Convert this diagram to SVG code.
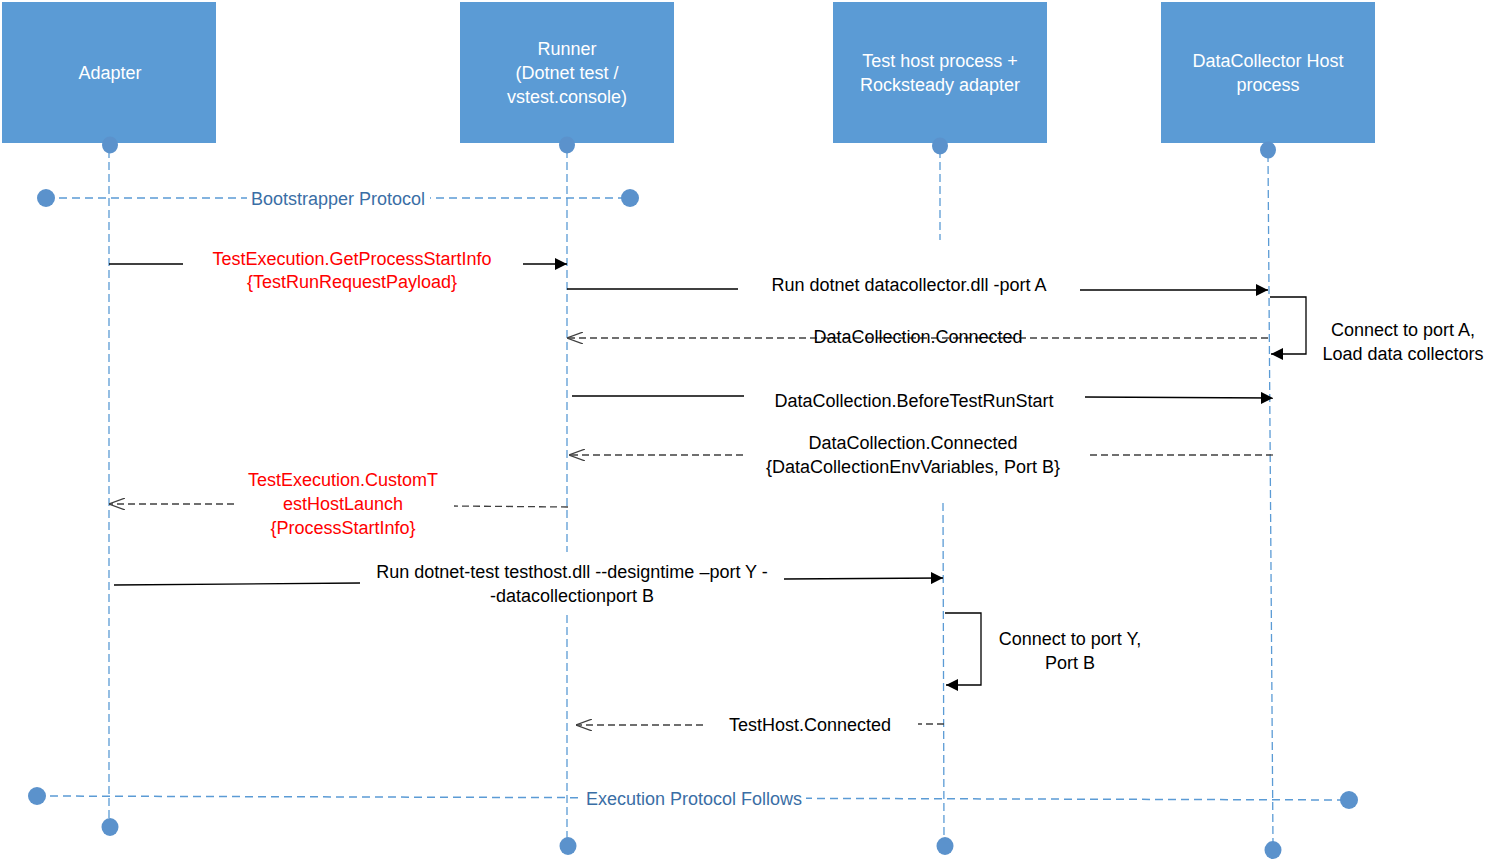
<svg xmlns="http://www.w3.org/2000/svg" width="1496" height="860" viewBox="0 0 1496 860">
<defs>
<style>
.box{fill:#5B9BD5;}
.ht{font-family:"Liberation Sans",Arial,sans-serif;font-size:18px;fill:#FFFFFF;text-anchor:middle;}
.t{font-family:"Liberation Sans",Arial,sans-serif;font-size:18px;fill:#000000;text-anchor:middle;}
.r{font-family:"Liberation Sans",Arial,sans-serif;font-size:18px;fill:#FF0000;text-anchor:middle;}
.p{font-family:"Liberation Sans",Arial,sans-serif;font-size:18px;fill:#3A6EA5;text-anchor:middle;}
.life{stroke:#5B9BD5;stroke-width:1.3;stroke-dasharray:8 4;fill:none;}
.proto{stroke:#5B9BD5;stroke-width:1.5;stroke-dasharray:8 5;fill:none;}
.dot{fill:#5B92CC;}
.msg{stroke:#000000;stroke-width:1.3;fill:none;}
.ret{stroke:#404040;stroke-width:1.3;stroke-dasharray:7 4;fill:none;}
</style>
<marker id="fa" viewBox="0 0 12 12" refX="12" refY="6" markerWidth="12" markerHeight="12" markerUnits="userSpaceOnUse" orient="auto">
<path d="M0,0 L12,6 L0,12 Z" fill="#000000"/>
</marker>
<marker id="oa" viewBox="0 0 16 12" refX="16" refY="6" markerWidth="16" markerHeight="12" markerUnits="userSpaceOnUse" orient="auto">
<path d="M0,0 L16,6 L0,12" fill="none" stroke="#404040" stroke-width="1.2"/>
</marker>
</defs>
<rect width="1496" height="860" fill="#FFFFFF"/>

<g id="adapter">
<rect class="box" x="2" y="2" width="214" height="141"/>
<text class="ht" x="110" y="79">Adapter</text>
</g>
<g id="runner">
<rect class="box" x="460" y="2" width="214" height="141"/>
<text class="ht" x="567" y="55">Runner</text>
<text class="ht" x="567" y="79">(Dotnet test /</text>
<text class="ht" x="567" y="103">vstest.console)</text>
</g>
<g id="testhost">
<rect class="box" x="833" y="2" width="214" height="141"/>
<text class="ht" x="940" y="67">Test host process +</text>
<text class="ht" x="940" y="91">Rocksteady adapter</text>
</g>
<g id="datacollector">
<rect class="box" x="1161" y="2" width="214" height="141"/>
<text class="ht" x="1268" y="67">DataCollector Host</text>
<text class="ht" x="1268" y="91">process</text>
</g>

<g id="lifelines">
<line class="life" x1="109" y1="150" x2="109" y2="822"/>
<line class="life" x1="567" y1="150" x2="567" y2="552"/>
<line class="life" x1="567" y1="615" x2="567" y2="840"/>
<line class="life" x1="940" y1="150" x2="940" y2="240"/>
<line class="life" x1="943" y1="503" x2="944" y2="840"/>
<line class="life" x1="1268" y1="154" x2="1273" y2="844"/>
<ellipse class="dot" cx="110" cy="145" rx="8" ry="8.5"/>
<ellipse class="dot" cx="567" cy="145" rx="8" ry="8.5"/>
<ellipse class="dot" cx="940" cy="146" rx="8" ry="8.5"/>
<ellipse class="dot" cx="1268" cy="150" rx="8" ry="8.5"/>
<ellipse class="dot" cx="110" cy="827" rx="8.5" ry="9"/>
<ellipse class="dot" cx="568" cy="846" rx="8.5" ry="9"/>
<ellipse class="dot" cx="945" cy="846" rx="8.5" ry="9"/>
<ellipse class="dot" cx="1273" cy="850" rx="8.5" ry="9"/>
</g>

<g id="bootstrapper-protocol">
<line class="proto" x1="46" y1="198" x2="630" y2="198"/>
<rect x="247" y="186" width="183" height="24" fill="#FFFFFF"/>
<text class="p" x="338" y="205">Bootstrapper Protocol</text>
<ellipse class="dot" cx="46" cy="198" rx="9" ry="9"/>
<ellipse class="dot" cx="630" cy="198" rx="9" ry="9"/>
</g>

<g id="execution-protocol">
<line class="proto" x1="37" y1="796" x2="1349" y2="800"/>
<rect x="582" y="786" width="224" height="24" fill="#FFFFFF"/>
<text class="p" x="694" y="805">Execution Protocol Follows</text>
<ellipse class="dot" cx="37" cy="796" rx="9" ry="9"/>
<ellipse class="dot" cx="1349" cy="800" rx="9" ry="9"/>
</g>

<g id="connectors">
<!-- 1 -->
<line class="msg" x1="109" y1="264" x2="183" y2="264"/>
<line class="msg" x1="523" y1="264" x2="567" y2="264" marker-end="url(#fa)"/>
<text class="r" x="352" y="265">TestExecution.GetProcessStartInfo</text>
<text class="r" x="352" y="288">{TestRunRequestPayload}</text>
<!-- 2 -->
<line class="msg" x1="567" y1="289" x2="738" y2="289"/>
<line class="msg" x1="1080" y1="290" x2="1268" y2="290" marker-end="url(#fa)"/>
<text class="t" x="909" y="291">Run dotnet datacollector.dll -port A</text>
<!-- 3 self -->
<polyline class="msg" points="1270,297 1306,297 1306,354 1271,354" marker-end="url(#fa)"/>
<text class="t" x="1403" y="336">Connect to port A,</text>
<text class="t" x="1403" y="360">Load data collectors</text>
<!-- 4 -->
<line class="ret" x1="1268" y1="338" x2="567" y2="338" marker-end="url(#oa)"/>
<text class="t" x="918" y="343">DataCollection.Connected</text>
<!-- 5 -->
<line class="msg" x1="572" y1="396" x2="744" y2="396"/>
<line class="msg" x1="1085" y1="397" x2="1273" y2="398" marker-end="url(#fa)"/>
<text class="t" x="914" y="407">DataCollection.BeforeTestRunStart</text>
<!-- 6 -->
<line class="ret" x1="1273" y1="455" x2="1086" y2="455"/>
<line class="ret" x1="743" y1="455" x2="569" y2="455" marker-end="url(#oa)"/>
<text class="t" x="913" y="449">DataCollection.Connected</text>
<text class="t" x="913" y="473">{DataCollectionEnvVariables, Port B}</text>
<!-- 7 -->
<line class="ret" x1="568" y1="507" x2="454" y2="506"/>
<line class="ret" x1="234" y1="504" x2="109" y2="504" marker-end="url(#oa)"/>
<text class="r" x="343" y="486">TestExecution.CustomT</text>
<text class="r" x="343" y="510">estHostLaunch</text>
<text class="r" x="343" y="534">{ProcessStartInfo}</text>
<!-- 8 -->
<line class="msg" x1="114" y1="585" x2="360" y2="583"/>
<line class="msg" x1="784" y1="579" x2="943" y2="578" marker-end="url(#fa)"/>
<text class="t" x="572" y="578">Run dotnet-test testhost.dll --designtime –port Y -</text>
<text class="t" x="572" y="602">-datacollectionport B</text>
<!-- 9 self -->
<polyline class="msg" points="945,613 981,613 981,685 946,685" marker-end="url(#fa)"/>
<text class="t" x="1070" y="645">Connect to port Y,</text>
<text class="t" x="1070" y="669">Port B</text>
<!-- 10 -->
<line class="ret" x1="944" y1="724" x2="918" y2="724"/>
<line class="ret" x1="703" y1="725" x2="576" y2="725" marker-end="url(#oa)"/>
<text class="t" x="810" y="731">TestHost.Connected</text>
</g>
</svg>
